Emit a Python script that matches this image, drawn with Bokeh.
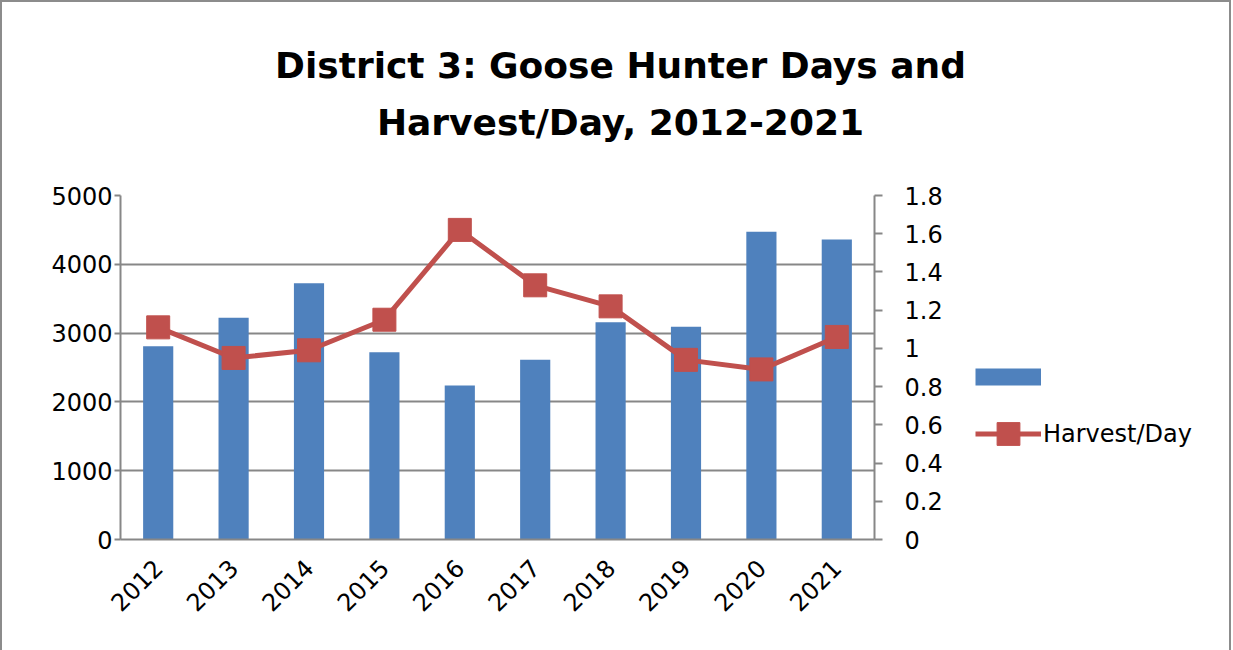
import math
from bokeh.plotting import figure
from bokeh.layouts import row, column
from bokeh.models import (FactorRange, Range1d, LinearAxis, FixedTicker, Label,
                          Legend, LegendItem)
from bokeh.embed import file_html
from bokeh.resources import INLINE

years = ["2012", "2013", "2014", "2015", "2016", "2017", "2018", "2019", "2020", "2021"]
hunter_days = [2810, 3222, 3726, 2723, 2238, 2612, 3159, 3091, 4472, 4360]
harvest_per_day = [1.11, 0.95, 0.99, 1.15, 1.62, 1.33, 1.22, 0.94, 0.89, 1.06]
left_ticks = [0, 1000, 2000, 3000, 4000, 5000]
right_ticks = [0, 0.2, 0.4, 0.6, 0.8, 1.0, 1.2, 1.4, 1.6, 1.8]
right_labels = ["0", "0.2", "0.4", "0.6", "0.8", "1", "1.2", "1.4", "1.6", "1.8"]
title_lines = ["District 3: Goose Hunter Days and", "Harvest/Day, 2012-2021"]
series_names = ["", "Harvest/Day"]

FONT = "DejaVu Sans"
GRID = "#878787"
BAR = "#4F81BD"
LINE = "#C0504D"
BORDER = "2px solid #8c8c8c"


def blank(fig):
    fig.grid.visible = False
    fig.outline_line_color = None
    fig.background_fill_color = "white"
    fig.border_fill_color = "white"


# ---- title strip -------------------------------------------------------
tf = figure(width=1231, height=180, x_range=Range1d(0, 1), y_range=Range1d(0, 1),
            output_backend="svg", toolbar_location=None, x_axis_location=None,
            y_axis_location=None, min_border=0, title=None)
tf.styles = {"border-left": BORDER, "border-top": BORDER, "border-right": BORDER}
blank(tf)
for txt, yy in zip(title_lines, [117, 60]):
    tf.add_layout(Label(x=618, y=yy, x_units="screen", y_units="screen", text=txt,
                        text_font=FONT, text_font_style="bold", text_font_size="36px",
                        text_align="center", text_baseline="alphabetic",
                        text_color="black"))

# ---- main chart --------------------------------------------------------
p = figure(x_range=FactorRange(*years), y_range=Range1d(0, 5000),
           frame_width=752, frame_height=344, output_backend="svg",
           toolbar_location=None, min_border_left=118, min_border_right=101,
           min_border_top=15, min_border_bottom=111, title=None)
p.styles = {"border-left": BORDER}
p.outline_line_color = None
p.background_fill_color = "white"
p.border_fill_color = "white"

p.extra_y_ranges = {"r": Range1d(0, 1.8)}

p.xgrid.grid_line_color = None
p.ygrid.grid_line_color = GRID
p.ygrid.grid_line_width = 2
p.ygrid.ticker = FixedTicker(ticks=left_ticks)

ly = p.yaxis[0]
ly.ticker = FixedTicker(ticks=left_ticks)
ly.axis_line_color = GRID
ly.axis_line_width = 2
ly.major_tick_line_color = GRID
ly.major_tick_line_width = 2
ly.major_tick_in = 0
ly.major_tick_out = 6
ly.minor_tick_line_color = None
ly.major_label_text_font = FONT
ly.major_label_text_font_size = "24px"
ly.major_label_text_color = "black"
ly.major_label_standoff = 2

ry = LinearAxis(y_range_name="r", ticker=FixedTicker(ticks=right_ticks),
                major_label_overrides={t: s for t, s in zip(right_ticks, right_labels)})
ry.axis_line_color = GRID
ry.axis_line_width = 2
ry.major_tick_line_color = GRID
ry.major_tick_line_width = 2
ry.major_tick_in = 0
ry.major_tick_out = 8
ry.minor_tick_line_color = None
ry.major_label_text_font = FONT
ry.major_label_text_font_size = "24px"
ry.major_label_text_color = "black"
ry.major_label_standoff = 22
p.add_layout(ry, "right")

xa = p.xaxis[0]
xa.axis_line_color = GRID
xa.axis_line_width = 2
xa.major_tick_line_color = None
xa.major_label_orientation = math.pi / 4
xa.major_label_text_font = FONT
xa.major_label_text_font_size = "24px"
xa.major_label_text_color = "black"
xa.major_label_standoff = 18

p.vbar(x=years, top=hunter_days, width=0.4, fill_color=BAR, line_color=None)
p.line(x=years, y=harvest_per_day, y_range_name="r", line_color=LINE, line_width=5)
p.scatter(x=years, y=harvest_per_day, y_range_name="r", marker="square",
          size=23, fill_color=LINE, line_color=LINE)

# ---- legend strip (its frame is aligned with the main chart's frame) -----
lf = figure(width=258, height=470, x_range=Range1d(0, 1), y_range=Range1d(0, 1),
            output_backend="svg", toolbar_location=None, x_axis_location=None,
            y_axis_location=None, min_border=0, title=None)
lf.styles = {"border-right": BORDER}
blank(lf)
sw_bar = lf.line(x=[0, 1], y=[2, 2], line_color=BAR, line_width=17, line_cap="butt",
                 visible=False)
sw_line = lf.line(x=[0, 1], y=[2, 2], line_color=LINE, line_width=5, visible=False)
sw_mark = lf.scatter(x=[0], y=[2], marker="square", size=23, fill_color=LINE,
                     line_color=LINE, visible=False)
legend = Legend(items=[LegendItem(label=series_names[0] or " ", renderers=[sw_bar]),
                       LegendItem(label=series_names[1], renderers=[sw_line, sw_mark])],
                location=(2, 77), glyph_width=66, glyph_height=57, spacing=0,
                padding=0, margin=0, label_standoff=2,
                border_line_color=None, background_fill_alpha=0,
                inactive_fill_alpha=0,
                label_text_font=FONT, label_text_font_size="24px",
                label_text_color="black")
lf.add_layout(legend, "center")

layout = column(tf, row(p, lf, spacing=0), spacing=0)
open("out.html", "w").write(file_html(layout, INLINE))
